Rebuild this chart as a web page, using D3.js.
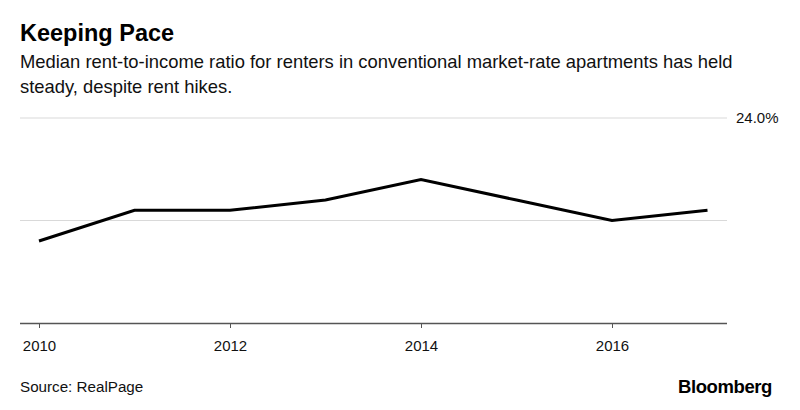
<!DOCTYPE html>
<html><head><meta charset="utf-8">
<script src="https://cdn.jsdelivr.net/npm/d3@7"></script>
<style>body{margin:0;background:#fff;} svg{display:block;font-family:"Liberation Sans",Arial,sans-serif;}</style>
</head><body>
<svg id="c" width="800" height="410"></svg>
<script>
const years = [2010, 2011, 2012, 2013, 2014, 2015, 2016, 2017];
const ratio = [22.8, 23.1, 23.1, 23.2, 23.4, 23.2, 23.0, 23.1];
const yTicks = [22, 23, 24];
const yTickLabels = ["", "", "24.0%"];
const xTicks = [2010, 2012, 2014, 2016];

(function () {
const svg = d3.select("#c");
const pl = 20, pr = 727, pt = 118, pb = 323;
const x = d3.scaleLinear().domain([2010, 2017]).range([39, 707.5]);
const y = d3.scaleLinear().domain([22, 24]).range([pb, pt]);

svg.append("text").attr("x", 20).attr("y", 41).attr("font-size", 23.5).attr("font-weight", "bold").attr("fill", "#000").text("Keeping Pace");
svg.append("text").attr("x", 20).attr("y", 68).attr("font-size", 18.4).attr("fill", "#111").text("Median rent-to-income ratio for renters in conventional market-rate apartments has held");
svg.append("text").attr("x", 20).attr("y", 93).attr("font-size", 18.4).attr("fill", "#111").text("steady, despite rent hikes.");

// gridlines
svg.append("g").selectAll("line").data(yTicks.slice(1)).join("line")
  .attr("x1", pl).attr("x2", pr).attr("y1", d => y(d)).attr("y2", d => y(d))
  .attr("stroke", "#d9d9d9").attr("stroke-width", 1);
svg.append("g").selectAll("text").data(yTicks).join("text")
  .attr("x", 736).attr("y", d => y(d) + 5).attr("font-size", 15).attr("fill", "#111")
  .text((d, i) => yTickLabels[i]);

// x axis
const xAxis = d3.axisBottom(x).tickValues(xTicks).tickFormat(d3.format("d")).tickSize(5).tickPadding(12).tickSizeOuter(0);
const gx = svg.append("g").attr("transform", `translate(0,${pb})`).call(xAxis);
gx.select(".domain").attr("d", `M${pl},0.5H${pr}`).attr("stroke", "#555").attr("stroke-width", 1.5);
gx.selectAll(".tick line").attr("stroke", "#555");
gx.selectAll(".tick text").attr("font-size", 15).attr("fill", "#111").attr("font-family", "Liberation Sans, Arial, sans-serif");

// line
svg.append("path").datum(years.map((d, i) => [d, ratio[i]]))
  .attr("fill", "none").attr("stroke", "#000").attr("stroke-width", 3).attr("stroke-linejoin", "miter")
  .attr("d", d3.line().x(d => x(d[0])).y(d => y(d[1])));

svg.append("text").attr("x", 20).attr("y", 392).attr("font-size", 15.2).attr("fill", "#111").text("Source: RealPage");
svg.append("text").attr("x", 772).attr("y", 393).attr("text-anchor", "end").attr("font-size", 18.5).attr("font-weight", "bold").attr("letter-spacing", "-0.4").attr("fill", "#000").text("Bloomberg");
})();
</script>
</body></html>
